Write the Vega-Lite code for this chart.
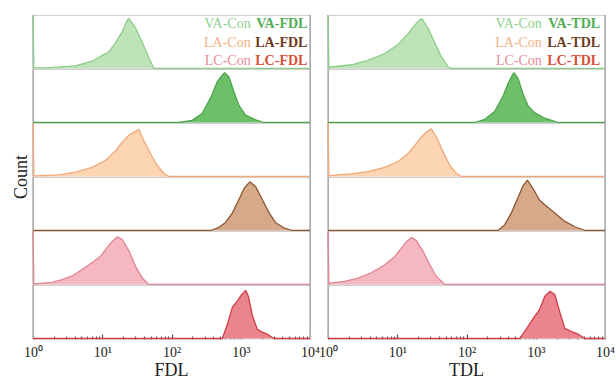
{
  "$schema": "https://vega.github.io/schema/vega-lite/v6.json",
  "background": "white",
  "padding": {"left": 12, "top": 13, "right": 4, "bottom": 0},
  "bounds": "flush",
  "config": {
    "font": "Liberation Serif",
    "view": {"stroke": "#cfcfcf", "strokeWidth": 1}
  },
  "data": {"values": [
    {"p":"FDL","g":"VA-Con","t":"h","x":1,"y":100},{"p":"FDL","g":"VA-Con","t":"h","x":1.03,"y":1},{"p":"FDL","g":"VA-Con","t":"h","x":1.514,"y":1},{"p":"FDL","g":"VA-Con","t":"h","x":4.074,"y":5},{"p":"FDL","g":"VA-Con","t":"h","x":7.161,"y":14},{"p":"FDL","g":"VA-Con","t":"h","x":12.47,"y":31},{"p":"FDL","g":"VA-Con","t":"h","x":15.49,"y":48},{"p":"FDL","g":"VA-Con","t":"h","x":19.5,"y":69},{"p":"FDL","g":"VA-Con","t":"h","x":22.91,"y":90},{"p":"FDL","g":"VA-Con","t":"h","x":24.27,"y":93},{"p":"FDL","g":"VA-Con","t":"h","x":30.2,"y":76},{"p":"FDL","g":"VA-Con","t":"h","x":38.02,"y":48},{"p":"FDL","g":"VA-Con","t":"h","x":46.77,"y":21},{"p":"FDL","g":"VA-Con","t":"h","x":55.59,"y":0},{"p":"FDL","g":"VA-Con","t":"h","x":10000,"y":0},

    {"p":"FDL","g":"VA-D","t":"h","x":1,"y":0},{"p":"FDL","g":"VA-D","t":"h","x":127.9,"y":0},{"p":"FDL","g":"VA-D","t":"h","x":199.5,"y":4},{"p":"FDL","g":"VA-D","t":"h","x":278.6,"y":17},{"p":"FDL","g":"VA-D","t":"h","x":367.3,"y":46},{"p":"FDL","g":"VA-D","t":"h","x":457.1,"y":76},{"p":"FDL","g":"VA-D","t":"h","x":542,"y":89},{"p":"FDL","g":"VA-D","t":"h","x":584.8,"y":93},{"p":"FDL","g":"VA-D","t":"h","x":676.1,"y":85},{"p":"FDL","g":"VA-D","t":"h","x":794.3,"y":58},{"p":"FDL","g":"VA-D","t":"h","x":941.9,"y":32},{"p":"FDL","g":"VA-D","t":"h","x":1175,"y":14},{"p":"FDL","g":"VA-D","t":"h","x":1641,"y":5},{"p":"FDL","g":"VA-D","t":"h","x":2163,"y":0},{"p":"FDL","g":"VA-D","t":"h","x":10000,"y":0},

    {"p":"FDL","g":"LA-Con","t":"h","x":1,"y":100},{"p":"FDL","g":"LA-Con","t":"h","x":1.03,"y":1},{"p":"FDL","g":"LA-Con","t":"h","x":2.36,"y":3},{"p":"FDL","g":"LA-Con","t":"h","x":4.111,"y":8},{"p":"FDL","g":"LA-Con","t":"h","x":7.161,"y":17},{"p":"FDL","g":"LA-Con","t":"h","x":11.17,"y":30},{"p":"FDL","g":"LA-Con","t":"h","x":15.56,"y":48},{"p":"FDL","g":"LA-Con","t":"h","x":19.45,"y":64},{"p":"FDL","g":"LA-Con","t":"h","x":24.27,"y":77},{"p":"FDL","g":"LA-Con","t":"h","x":28.64,"y":83},{"p":"FDL","g":"LA-Con","t":"h","x":33.88,"y":88},{"p":"FDL","g":"LA-Con","t":"h","x":39.81,"y":67},{"p":"FDL","g":"LA-Con","t":"h","x":50.12,"y":42},{"p":"FDL","g":"LA-Con","t":"h","x":62.37,"y":20},{"p":"FDL","g":"LA-Con","t":"h","x":77.62,"y":6},{"p":"FDL","g":"LA-Con","t":"h","x":91.2,"y":0},{"p":"FDL","g":"LA-Con","t":"h","x":10000,"y":0},

    {"p":"FDL","g":"LA-D","t":"h","x":1,"y":0},{"p":"FDL","g":"LA-D","t":"h","x":367.3,"y":0},{"p":"FDL","g":"LA-D","t":"h","x":484.2,"y":6},{"p":"FDL","g":"LA-D","t":"h","x":602.6,"y":15},{"p":"FDL","g":"LA-D","t":"h","x":758.6,"y":33},{"p":"FDL","g":"LA-D","t":"h","x":941.9,"y":58},{"p":"FDL","g":"LA-D","t":"h","x":1122,"y":79},{"p":"FDL","g":"LA-D","t":"h","x":1349,"y":91},{"p":"FDL","g":"LA-D","t":"h","x":1641,"y":82},{"p":"FDL","g":"LA-D","t":"h","x":2042,"y":58},{"p":"FDL","g":"LA-D","t":"h","x":2570,"y":33},{"p":"FDL","g":"LA-D","t":"h","x":3162,"y":15},{"p":"FDL","g":"LA-D","t":"h","x":4169,"y":5},{"p":"FDL","g":"LA-D","t":"h","x":5559,"y":0},{"p":"FDL","g":"LA-D","t":"h","x":10000,"y":0},

    {"p":"FDL","g":"LC-Con","t":"h","x":1,"y":100},{"p":"FDL","g":"LC-Con","t":"h","x":1.03,"y":1},{"p":"FDL","g":"LC-Con","t":"h","x":1.892,"y":4},{"p":"FDL","g":"LC-Con","t":"h","x":2.63,"y":9},{"p":"FDL","g":"LC-Con","t":"h","x":3.681,"y":16},{"p":"FDL","g":"LC-Con","t":"h","x":5.129,"y":28},{"p":"FDL","g":"LC-Con","t":"h","x":7.161,"y":41},{"p":"FDL","g":"LC-Con","t":"h","x":9.441,"y":53},{"p":"FDL","g":"LC-Con","t":"h","x":11.75,"y":69},{"p":"FDL","g":"LC-Con","t":"h","x":13.96,"y":81},{"p":"FDL","g":"LC-Con","t":"h","x":16.48,"y":89},{"p":"FDL","g":"LC-Con","t":"h","x":19.5,"y":84},{"p":"FDL","g":"LC-Con","t":"h","x":24.27,"y":63},{"p":"FDL","g":"LC-Con","t":"h","x":30.2,"y":34},{"p":"FDL","g":"LC-Con","t":"h","x":38.02,"y":12},{"p":"FDL","g":"LC-Con","t":"h","x":46.77,"y":0},{"p":"FDL","g":"LC-Con","t":"h","x":10000,"y":0},

    {"p":"FDL","g":"LC-D","t":"h","x":1,"y":0},{"p":"FDL","g":"LC-D","t":"h","x":542,"y":0},{"p":"FDL","g":"LC-D","t":"h","x":639.7,"y":26},{"p":"FDL","g":"LC-D","t":"h","x":755.1,"y":58},{"p":"FDL","g":"LC-D","t":"h","x":891.3,"y":70},{"p":"FDL","g":"LC-D","t":"h","x":1030,"y":82},{"p":"FDL","g":"LC-D","t":"h","x":1175,"y":90},{"p":"FDL","g":"LC-D","t":"h","x":1288,"y":79},{"p":"FDL","g":"LC-D","t":"h","x":1469,"y":43},{"p":"FDL","g":"LC-D","t":"h","x":1738,"y":17},{"p":"FDL","g":"LC-D","t":"h","x":2042,"y":12},{"p":"FDL","g":"LC-D","t":"h","x":2427,"y":8},{"p":"FDL","g":"LC-D","t":"h","x":3020,"y":0},{"p":"FDL","g":"LC-D","t":"h","x":10000,"y":0},

    {"p":"TDL","g":"VA-Con","t":"h","x":1,"y":100},{"p":"TDL","g":"VA-Con","t":"h","x":1.03,"y":1},{"p":"TDL","g":"VA-Con","t":"h","x":1.117,"y":3},{"p":"TDL","g":"VA-Con","t":"h","x":2.173,"y":7},{"p":"TDL","g":"VA-Con","t":"h","x":3.784,"y":15},{"p":"TDL","g":"VA-Con","t":"h","x":6.592,"y":28},{"p":"TDL","g":"VA-Con","t":"h","x":10.28,"y":45},{"p":"TDL","g":"VA-Con","t":"h","x":14.32,"y":65},{"p":"TDL","g":"VA-Con","t":"h","x":17.91,"y":81},{"p":"TDL","g":"VA-Con","t":"h","x":21.13,"y":91},{"p":"TDL","g":"VA-Con","t":"h","x":22.8,"y":93},{"p":"TDL","g":"VA-Con","t":"h","x":27.86,"y":75},{"p":"TDL","g":"VA-Con","t":"h","x":34.83,"y":48},{"p":"TDL","g":"VA-Con","t":"h","x":43.45,"y":22},{"p":"TDL","g":"VA-Con","t":"h","x":54.2,"y":3},{"p":"TDL","g":"VA-Con","t":"h","x":60.53,"y":0},{"p":"TDL","g":"VA-Con","t":"h","x":10000,"y":0},

    {"p":"TDL","g":"VA-D","t":"h","x":1,"y":0},{"p":"TDL","g":"VA-D","t":"h","x":131.8,"y":0},{"p":"TDL","g":"VA-D","t":"h","x":183.7,"y":6},{"p":"TDL","g":"VA-D","t":"h","x":256.4,"y":21},{"p":"TDL","g":"VA-D","t":"h","x":338.1,"y":50},{"p":"TDL","g":"VA-D","t":"h","x":399,"y":73},{"p":"TDL","g":"VA-D","t":"h","x":456,"y":88},{"p":"TDL","g":"VA-D","t":"h","x":487.5,"y":93},{"p":"TDL","g":"VA-D","t":"h","x":557.2,"y":82},{"p":"TDL","g":"VA-D","t":"h","x":657.7,"y":53},{"p":"TDL","g":"VA-D","t":"h","x":776.2,"y":31},{"p":"TDL","g":"VA-D","t":"h","x":970.5,"y":18},{"p":"TDL","g":"VA-D","t":"h","x":1352,"y":8},{"p":"TDL","g":"VA-D","t":"h","x":2109,"y":0},{"p":"TDL","g":"VA-D","t":"h","x":10000,"y":0},

    {"p":"TDL","g":"LA-Con","t":"h","x":1,"y":100},{"p":"TDL","g":"LA-Con","t":"h","x":1.03,"y":1},{"p":"TDL","g":"LA-Con","t":"h","x":1.117,"y":2},{"p":"TDL","g":"LA-Con","t":"h","x":2.173,"y":5},{"p":"TDL","g":"LA-Con","t":"h","x":3.784,"y":9},{"p":"TDL","g":"LA-Con","t":"h","x":6.592,"y":17},{"p":"TDL","g":"LA-Con","t":"h","x":10.28,"y":28},{"p":"TDL","g":"LA-Con","t":"h","x":14.32,"y":43},{"p":"TDL","g":"LA-Con","t":"h","x":17.91,"y":58},{"p":"TDL","g":"LA-Con","t":"h","x":22.34,"y":74},{"p":"TDL","g":"LA-Con","t":"h","x":26.36,"y":83},{"p":"TDL","g":"LA-Con","t":"h","x":31.12,"y":89},{"p":"TDL","g":"LA-Con","t":"h","x":36.73,"y":74},{"p":"TDL","g":"LA-Con","t":"h","x":45.92,"y":46},{"p":"TDL","g":"LA-Con","t":"h","x":57.28,"y":21},{"p":"TDL","g":"LA-Con","t":"h","x":71.45,"y":6},{"p":"TDL","g":"LA-Con","t":"h","x":84.53,"y":0},{"p":"TDL","g":"LA-Con","t":"h","x":10000,"y":0},

    {"p":"TDL","g":"LA-D","t":"h","x":1,"y":0},{"p":"TDL","g":"LA-D","t":"h","x":286.4,"y":0},{"p":"TDL","g":"LA-D","t":"h","x":357.3,"y":11},{"p":"TDL","g":"LA-D","t":"h","x":445.6,"y":33},{"p":"TDL","g":"LA-D","t":"h","x":557.2,"y":62},{"p":"TDL","g":"LA-D","t":"h","x":657.7,"y":84},{"p":"TDL","g":"LA-D","t":"h","x":758.6,"y":94},{"p":"TDL","g":"LA-D","t":"h","x":916.2,"y":78},{"p":"TDL","g":"LA-D","t":"h","x":1146,"y":56},{"p":"TDL","g":"LA-D","t":"h","x":1510,"y":43},{"p":"TDL","g":"LA-D","t":"h","x":1995,"y":30},{"p":"TDL","g":"LA-D","t":"h","x":2630,"y":17},{"p":"TDL","g":"LA-D","t":"h","x":3673,"y":7},{"p":"TDL","g":"LA-D","t":"h","x":5129,"y":0},{"p":"TDL","g":"LA-D","t":"h","x":10000,"y":0},

    {"p":"TDL","g":"LC-Con","t":"h","x":1,"y":100},{"p":"TDL","g":"LC-Con","t":"h","x":1.03,"y":1},{"p":"TDL","g":"LC-Con","t":"h","x":1.117,"y":3},{"p":"TDL","g":"LC-Con","t":"h","x":1.738,"y":6},{"p":"TDL","g":"LC-Con","t":"h","x":2.716,"y":12},{"p":"TDL","g":"LC-Con","t":"h","x":4.227,"y":22},{"p":"TDL","g":"LC-Con","t":"h","x":6.592,"y":37},{"p":"TDL","g":"LC-Con","t":"h","x":9.183,"y":52},{"p":"TDL","g":"LC-Con","t":"h","x":11.48,"y":68},{"p":"TDL","g":"LC-Con","t":"h","x":13.55,"y":80},{"p":"TDL","g":"LC-Con","t":"h","x":16.0,"y":88},{"p":"TDL","g":"LC-Con","t":"h","x":18.88,"y":82},{"p":"TDL","g":"LC-Con","t":"h","x":23.6,"y":62},{"p":"TDL","g":"LC-Con","t":"h","x":29.51,"y":37},{"p":"TDL","g":"LC-Con","t":"h","x":36.73,"y":15},{"p":"TDL","g":"LC-Con","t":"h","x":48.53,"y":0},{"p":"TDL","g":"LC-Con","t":"h","x":10000,"y":0},

    {"p":"TDL","g":"LC-D","t":"h","x":1,"y":0},{"p":"TDL","g":"LC-D","t":"h","x":588.8,"y":0},{"p":"TDL","g":"LC-D","t":"h","x":734.5,"y":18},{"p":"TDL","g":"LC-D","t":"h","x":916.2,"y":37},{"p":"TDL","g":"LC-D","t":"h","x":1146,"y":55},{"p":"TDL","g":"LC-D","t":"h","x":1352,"y":79},{"p":"TDL","g":"LC-D","t":"h","x":1600,"y":88},{"p":"TDL","g":"LC-D","t":"h","x":1888,"y":82},{"p":"TDL","g":"LC-D","t":"h","x":2228,"y":49},{"p":"TDL","g":"LC-D","t":"h","x":2630,"y":19},{"p":"TDL","g":"LC-D","t":"h","x":3281,"y":13},{"p":"TDL","g":"LC-D","t":"h","x":4102,"y":8},{"p":"TDL","g":"LC-D","t":"h","x":5129,"y":0},{"p":"TDL","g":"LC-D","t":"h","x":10000,"y":0},

    {"p":"FDL","g":"VA-Con","t":"c","lg":"VA-Con","s":"VA-Con","x":1390,"y":83},
    {"p":"FDL","g":"VA-Con","t":"c","lg":"LA-Con","s":"LA-Con","x":1390,"y":47},
    {"p":"FDL","g":"VA-Con","t":"c","lg":"LC-Con","s":"LC-Con","x":1390,"y":14},
    {"p":"FDL","g":"VA-Con","t":"d","lg":"VA-D","s":"VA-FDL","x":9170,"y":83},
    {"p":"FDL","g":"VA-Con","t":"d","lg":"LA-D","s":"LA-FDL","x":9170,"y":47},
    {"p":"FDL","g":"VA-Con","t":"d","lg":"LC-D","s":"LC-FDL","x":9170,"y":14},
    {"p":"TDL","g":"VA-Con","t":"c","lg":"VA-Con","s":"VA-Con","x":1225,"y":83},
    {"p":"TDL","g":"VA-Con","t":"c","lg":"LA-Con","s":"LA-Con","x":1225,"y":47},
    {"p":"TDL","g":"VA-Con","t":"c","lg":"LC-Con","s":"LC-Con","x":1225,"y":14},
    {"p":"TDL","g":"VA-Con","t":"d","lg":"VA-D","s":"VA-TDL","x":8511,"y":83},
    {"p":"TDL","g":"VA-Con","t":"d","lg":"LA-D","s":"LA-TDL","x":8511,"y":47},
    {"p":"TDL","g":"VA-Con","t":"d","lg":"LC-D","s":"LC-TDL","x":8511,"y":14}
  ]},
  "facet": {
    "row": {
      "field": "g", "type": "nominal",
      "sort": ["VA-Con", "VA-D", "LA-Con", "LA-D", "LC-Con", "LC-D"],
      "title": "Count",
      "header": {"labels": false, "labelPadding": 0, "titleFontSize": 18, "titleFont": "Liberation Serif", "titleFontWeight": "normal", "titleColor": "#222222", "titlePadding": -7.5}
    },
    "column": {
      "field": "p", "type": "nominal",
      "title": null,
      "header": {"labelOrient": "bottom", "labelFontSize": 18, "labelFont": "Liberation Serif", "labelColor": "#222222", "labelPadding": 1}
    }
  },
  "spacing": {"row": 0, "column": 18},
  "spec": {
    "width": 277,
    "height": 53.5,
    "layer": [
      {
        "transform": [{"filter": "datum.t == 'h' && (datum.x == 1 || datum.x == 10000)"}],
        "mark": {"type": "rule", "color": "#8c8c8c", "strokeWidth": 1},
        "encoding": {
          "x": {"field": "x", "type": "quantitative", "scale": {"type": "log", "domain": [1, 10000]},
            "axis": {
              "values": [1,2,3,4,5,6,7,8,9,10,20,30,40,50,60,70,80,90,100,200,300,400,500,600,700,800,900,1000,2000,3000,4000,5000,6000,7000,8000,9000,10000],
              "labelExpr": "abs(log(datum.value)/LN10 - round(log(datum.value)/LN10)) < 0.001 ? '10' + ['⁰','¹','²','³','⁴'][round(log(datum.value)/LN10)] : ''",
              "tickSize": {"condition": {"test": "abs(log(datum.value)/LN10 - round(log(datum.value)/LN10)) < 0.001", "value": -5}, "value": -3},
              "tickColor": "#555555",
              "tickWidth": 1.2,
              "domain": false,
              "grid": false,
              "title": null,
              "labelFontSize": 14,
              "labelFont": "Liberation Serif",
              "labelColor": "#222222",
              "labelPadding": 11,
              "labelFlush": false,
              "labelOverlap": false
            }
          }
        }
      },
      {
        "transform": [{"filter": "datum.t == 'h'"}],
        "mark": {"type": "area", "opacity": 1},
        "encoding": {
          "x": {"field": "x", "type": "quantitative"},
          "y": {"field": "y", "type": "quantitative", "scale": {"domain": [0, 100]}, "axis": null},
          "fill": {"field": "g", "type": "nominal", "legend": null,
            "scale": {"domain": ["VA-Con", "VA-D", "LA-Con", "LA-D", "LC-Con", "LC-D"],
                      "range": ["#bfe3b9", "#6dbf6a", "#fcd5b5", "#d6a98a", "#f6b8c0", "#ea8590"]}}
        }
      },
      {
        "transform": [{"filter": "datum.t == 'h'"}],
        "mark": {"type": "line", "strokeWidth": 1.3, "strokeJoin": "round"},
        "encoding": {
          "x": {"field": "x", "type": "quantitative"},
          "y": {"field": "y", "type": "quantitative"},
          "stroke": {"field": "g", "type": "nominal", "legend": null,
            "scale": {"domain": ["VA-Con", "VA-D", "LA-Con", "LA-D", "LC-Con", "LC-D"],
                      "range": ["#8ccc88", "#4da64d", "#f2a977", "#8e5530", "#e08593", "#d23c45"]}}
        }
      },
      {
        "transform": [{"filter": "datum.t == 'c'"}],
        "mark": {"type": "text", "align": "right", "baseline": "middle", "fontSize": 14, "font": "Liberation Serif"},
        "encoding": {
          "x": {"field": "x", "type": "quantitative"},
          "y": {"field": "y", "type": "quantitative"},
          "text": {"field": "s"},
          "color": {"field": "lg", "type": "nominal", "legend": null,
            "scale": {"domain": ["VA-Con", "VA-D", "LA-Con", "LA-D", "LC-Con", "LC-D"],
                      "range": ["#8fd08c", "#4fae55", "#f5b07f", "#6e3b20", "#e98a95", "#d8503a"]}}
        }
      },
      {
        "transform": [{"filter": "datum.t == 'd'"}],
        "mark": {"type": "text", "align": "right", "baseline": "middle", "fontSize": 14, "fontWeight": "bold", "font": "Liberation Serif"},
        "encoding": {
          "x": {"field": "x", "type": "quantitative"},
          "y": {"field": "y", "type": "quantitative"},
          "text": {"field": "s"},
          "color": {"field": "lg", "type": "nominal", "legend": null}
        }
      }
    ]
  }
}
